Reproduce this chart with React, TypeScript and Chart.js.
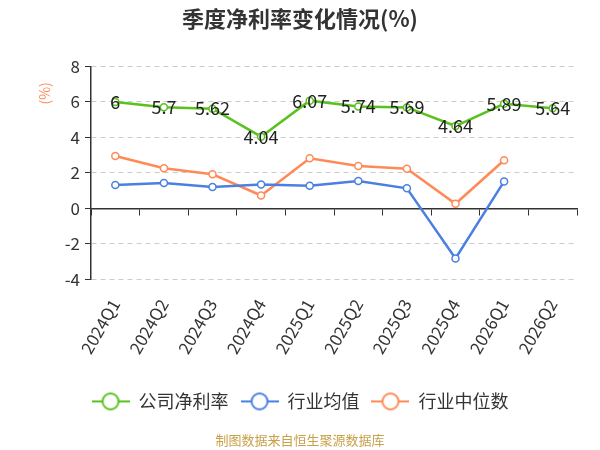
import React, { useEffect, useRef } from "react";
import { Chart, registerables } from "chart.js";

Chart.register(...registerables);

const categories = [
  "2024Q1", "2024Q2", "2024Q3", "2024Q4", "2025Q1",
  "2025Q2", "2025Q3", "2025Q4", "2026Q1", "2026Q2",
];
const companyRate = [6, 5.7, 5.62, 4.04, 6.07, 5.74, 5.69, 4.64, 5.89, 5.64];
const industryMean = [1.32, 1.43, 1.2, 1.34, 1.28, 1.54, 1.13, -2.82, 1.52, null];
const industryMedian = [2.95, 2.26, 1.92, 0.73, 2.82, 2.39, 2.24, 0.26, 2.71, null];
const seriesNames = ["公司净利率", "行业均值", "行业中位数"];
const seriesColors = ["#5ac21f", "#4a80e2", "#ff8a57"];

const FONT = "'Noto Sans CJK SC', 'Noto Sans', sans-serif";

// line-with-circle symbol for the legend
const makeLegendIcon = (color: string) => {
  const c = document.createElement("canvas");
  c.width = 38;
  c.height = 20;
  const g = c.getContext("2d");
  if (g) {
    g.strokeStyle = color;
    g.lineWidth = 2;
    g.beginPath();
    g.moveTo(0, 10);
    g.lineTo(38, 10);
    g.stroke();
    g.beginPath();
    g.arc(19, 10, 8, 0, Math.PI * 2);
    g.fillStyle = "#fff";
    g.fill();
    g.stroke();
  }
  return c;
};

// draws the company value labels and the "(%)" unit
const labelPlugin = {
  id: "labels",
  afterDatasetsDraw(chart: any) {
    const ctx = chart.ctx;
    const meta = chart.getDatasetMeta(0);
    ctx.save();
    ctx.font = `18px ${FONT}`;
    ctx.fillStyle = "#222";
    ctx.textAlign = "center";
    ctx.textBaseline = "middle";
    meta.data.forEach((pt: any, i: number) => {
      ctx.fillText(String(companyRate[i]), pt.x, pt.y);
    });
    ctx.translate(chart.chartArea.left - 46, chart.chartArea.top + 27);
    ctx.rotate(-Math.PI / 2);
    ctx.font = `14px ${FONT}`;
    ctx.fillStyle = "#ff8a57";
    ctx.fillText("(%)", 0, 0);
    ctx.restore();
  },
};

const App = () => {
  const canvasRef = useRef<HTMLCanvasElement | null>(null);

  useEffect(() => {
    document.body.style.margin = "0";
    const ctx = canvasRef.current?.getContext("2d");
    if (!ctx) return;

    const icons = seriesColors.map(makeLegendIcon);
    const values = [companyRate, industryMean, industryMedian];

    const chart = new Chart(ctx, {
      type: "line",
      data: {
        labels: categories,
        datasets: values.map((v, i) => ({
          label: seriesNames[i],
          data: v,
          borderColor: seriesColors[i],
          backgroundColor: "#fff",
          borderWidth: 2.5,
          pointRadius: 3.5,
          pointBorderWidth: 1.5,
          pointBackgroundColor: "#fff",
          pointBorderColor: seriesColors[i],
          spanGaps: false,
          xAxisID: "x",
        })),
      },
      options: {
        responsive: false,
        animation: false,
        layout: { padding: 0 },
        plugins: {
          tooltip: { enabled: false },
          title: {
            display: true,
            text: "季度净利率变化情况(%)",
            color: "#333",
            font: { family: FONT, size: 22, weight: "bold" },
            padding: { top: 5, bottom: 35 },
          },
          legend: {
            position: "bottom",
            labels: {
              usePointStyle: true,
              pointStyleWidth: 38,
              color: "#333",
              font: { family: FONT, size: 18 },
              padding: 12,
              generateLabels: () =>
                seriesNames.map((n, i) => ({
                  text: n,
                  pointStyle: icons[i],
                  fillStyle: "#fff",
                  strokeStyle: seriesColors[i],
                  lineWidth: 0,
                  fontColor: "#333",
                  datasetIndex: i,
                  hidden: false,
                })),
            },
          },
          subtitle: {
            display: true,
            position: "bottom",
            text: "制图数据来自恒生聚源数据库",
            color: "#c9a04a",
            font: { family: FONT, size: 13 },
            padding: { top: 12, bottom: 2 },
          },
        },
        scales: {
          x: {
            type: "category",
            position: { y: 0 },
            offset: true,
            grid: {
              display: true,
              drawOnChartArea: false,
              drawTicks: true,
              tickLength: 6,
              tickColor: "#333",
              offset: true,
            },
            border: { display: true, color: "#333", width: 1.5 },
            ticks: { display: false },
          },
          x2: {
            type: "category",
            labels: categories,
            position: "bottom",
            offset: true,
            grid: { display: false },
            border: { display: false },
            ticks: {
              color: "#333",
              font: { family: FONT, size: 17 },
              minRotation: 60,
              maxRotation: 60,
              padding: 8,
            },
            afterFit: (s: any) => {
              s.height = 101;
            },
          },
          y: {
            min: -4,
            max: 8,
            ticks: {
              stepSize: 2,
              color: "#333",
              font: { family: FONT, size: 17 },
              padding: 5,
            },
            grid: {
              color: "#ccc",
              tickColor: "#333",
              tickLength: 6,
              lineWidth: 1,
            },
            border: { display: true, color: "#333", width: 1.5, dash: [5, 4] },
            afterFit: (s: any) => {
              s.width = 91;
            },
          },
          // empty right gutter so the plot ends where the reference does
          yRight: {
            position: "right",
            display: true,
            grid: { display: false },
            border: { display: false },
            ticks: { display: false },
            afterFit: (s: any) => {
              s.width = 23;
            },
          },
        },
      },
      plugins: [labelPlugin],
    });

    return () => {
      chart.destroy();
    };
  }, []);

  return (
    <div style={{ width: 600, height: 450 }}>
      <canvas ref={canvasRef} width={600} height={450} />
    </div>
  );
};

export default App;
